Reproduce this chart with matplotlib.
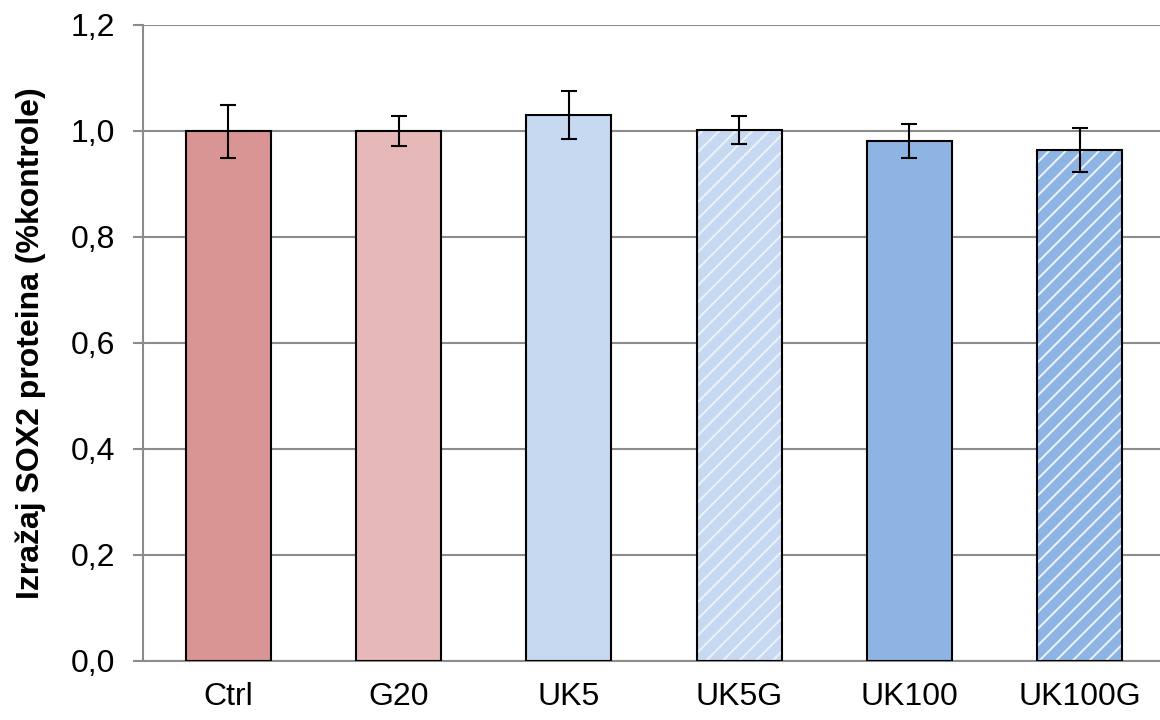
import matplotlib
matplotlib.use("Agg")
import matplotlib.pyplot as plt
from matplotlib.ticker import FuncFormatter, MultipleLocator

categories = ["Ctrl", "G20", "UK5", "UK5G", "UK100", "UK100G"]
values = [1.000, 1.000, 1.030, 1.002, 0.981, 0.964]
errors = [0.050, 0.028, 0.045, 0.026, 0.032, 0.041]
colors = ["#D99594", "#E6B9B8", "#C6D9F1", "#C6D9F1", "#8EB4E3", "#8EB4E3"]
hatched = [False, False, False, True, False, True]

plt.rcParams['font.family'] = ['Liberation Sans', 'DejaVu Sans']
plt.rcParams['hatch.linewidth'] = 1.4

fig = plt.figure(figsize=(11.6, 7.2), dpi=100)
ax = fig.add_axes([143 / 1160, 59 / 720, 1022 / 1160, 636 / 720])

x = list(range(len(categories)))
for i in x:
    if hatched[i]:
        ax.bar(i, values[i], width=0.5, color=colors[i], edgecolor="#EEF3FA",
               hatch="//", linewidth=0, zorder=2)
    else:
        ax.bar(i, values[i], width=0.5, color=colors[i], linewidth=0, zorder=2)
    ax.bar(i, values[i], width=0.5, fill=False, edgecolor="black",
           linewidth=1.5, zorder=3)

ax.errorbar(x, values, yerr=errors, fmt="none", ecolor="black",
            elinewidth=1.5, capsize=6, capthick=1.5, zorder=4)

ax.set_xlim(-0.5, 5.5)
ax.set_ylim(0, 1.2)
ax.yaxis.set_major_locator(MultipleLocator(0.2))
ax.yaxis.set_major_formatter(FuncFormatter(lambda v, p: f"{v:.1f}".replace(".", ",")))
ax.set_xticks(x)
ax.set_xticklabels(categories)

ax.grid(axis="y", color="#8c8c8c", linewidth=1.5, zorder=0)
ax.set_axisbelow(True)
for s in ["top", "right"]:
    ax.spines[s].set_visible(False)
for s in ["left", "bottom"]:
    ax.spines[s].set_color("#8c8c8c")
    ax.spines[s].set_linewidth(1.5)

ax.tick_params(axis="y", direction="out", length=7, width=1.5, color="#8c8c8c",
               labelsize=23, pad=13)
ax.tick_params(axis="x", length=0, labelsize=23, pad=15)

ax.set_ylabel("Izražaj SOX2 proteina (%kontrole)", fontsize=23,
              fontweight="bold", labelpad=18)

fig.savefig("out.png", dpi=100)
